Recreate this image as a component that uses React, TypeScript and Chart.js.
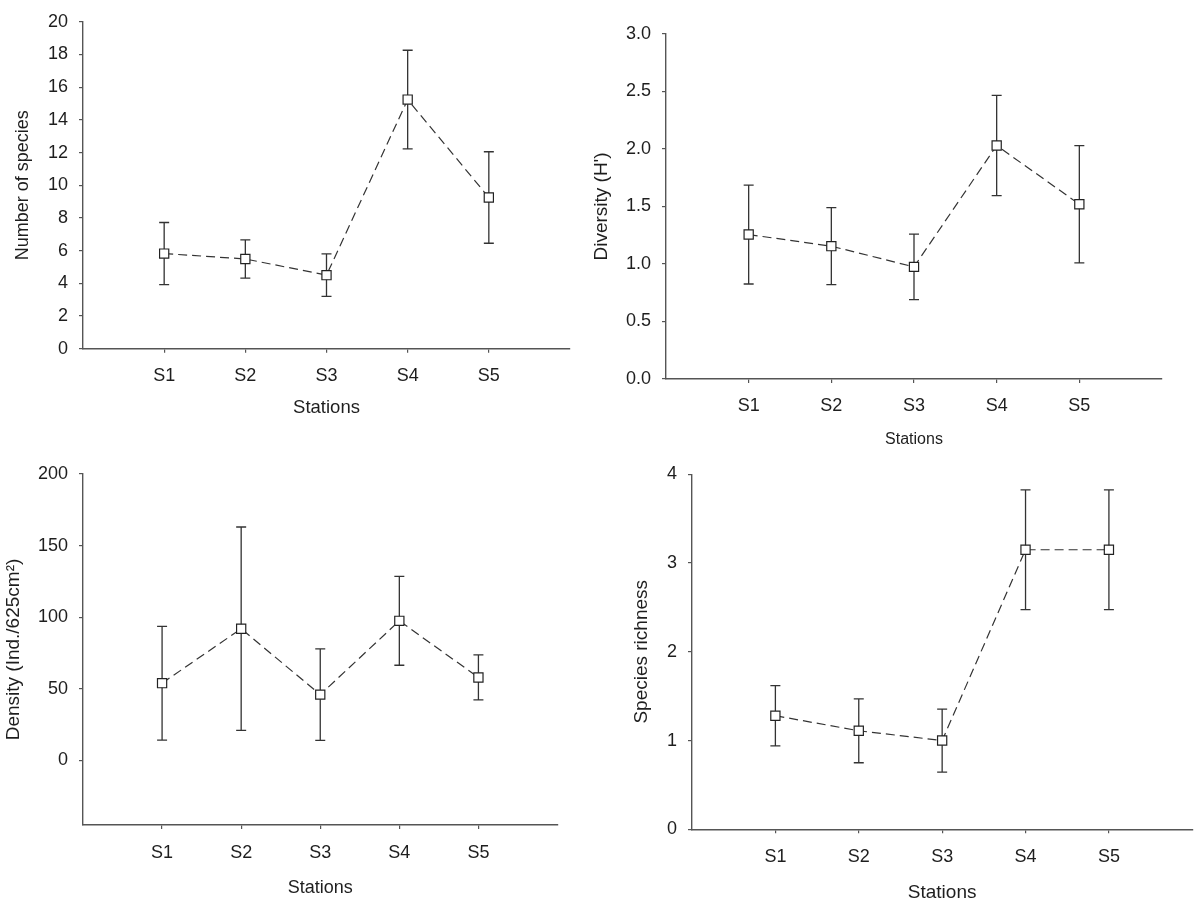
import React, { useEffect, useRef } from "react";
import { Chart, registerables } from "chart.js";

Chart.register(...registerables);

// ---------- data ----------
const stations = ["S1", "S2", "S3", "S4", "S5"];
const stationPositions = [1, 2, 3, 4, 5];

const speciesMean = [5.82, 5.49, 4.5, 15.24, 9.25];
const speciesSD = [1.9, 1.17, 1.3, 3.02, 2.8];
const speciesTicks = [0, 2, 4, 6, 8, 10, 12, 14, 16, 18, 20];

const diversityMean = [1.256, 1.155, 0.975, 2.03, 1.52];
const diversitySD = [0.43, 0.335, 0.285, 0.436, 0.51];
const diversityTicks = [0, 0.5, 1.0, 1.5, 2.0, 2.5, 3.0];

const densityMean = [54, 92, 46, 97.5, 58];
const densitySD = [39.7, 71, 32, 31, 15.7];
const densityTicks = [0, 50, 100, 150, 200];

const richnessMean = [1.28, 1.11, 1.0, 3.15, 3.15];
const richnessSD = [0.34, 0.36, 0.355, 0.675, 0.675];
const richnessTicks = [0, 1, 2, 3, 4];

// ---------- style ----------
const FONT = '"Liberation Sans", Arial, Helvetica, sans-serif';
const AXIS = "#555";
const INK = "#1e1e1e";
const LINE = "#333";

type PanelSpec = {
  left: number;
  top: number;
  width: number;
  height: number;
  means: number[];
  sds: number[];
  yTicks: number[];
  yMin: number;
  yMax: number;
  decimals: number;
  yTitle: string;
  yTitleSize: number;
  yTitlePad: number;
  xTitleSize: number;
  yWidth: number;
  xHeight: number;
  pad: { left: number; top: number; right: number; bottom: number };
  xTickPad: number;
};

function makeErrorBars(sds: number[]) {
  return {
    id: "errorBars",
    beforeDatasetsDraw(chart: any) {
      const { ctx } = chart;
      const x = chart.scales.x;
      const y = chart.scales.y;
      const pts = chart.data.datasets[0].data as { x: number; y: number }[];
      ctx.save();
      ctx.strokeStyle = LINE;
      ctx.lineWidth = 1.3;
      pts.forEach((p, i) => {
        const px = x.getPixelForValue(p.x);
        const hi = y.getPixelForValue(p.y + sds[i]);
        const lo = y.getPixelForValue(p.y - sds[i]);
        ctx.beginPath();
        ctx.moveTo(px, hi);
        ctx.lineTo(px, lo);
        ctx.moveTo(px - 5, hi);
        ctx.lineTo(px + 5, hi);
        ctx.moveTo(px - 5, lo);
        ctx.lineTo(px + 5, lo);
        ctx.stroke();
      });
      ctx.restore();
    },
  };
}

function Panel({ spec }: { spec: PanelSpec }) {
  const ref = useRef<HTMLCanvasElement | null>(null);

  useEffect(() => {
    if (!ref.current) return;
    const s = spec;
    const chart = new Chart(ref.current, {
      type: "line",
      data: {
        datasets: [
          {
            data: s.means.map((v, i) => ({ x: stationPositions[i], y: v })),
            borderColor: LINE,
            borderWidth: 1.2,
            borderDash: [9, 5],
            fill: false,
            tension: 0,
            pointStyle: "rect",
            pointRadius: 6.5,
            pointBackgroundColor: "#ffffff",
            pointBorderColor: "#222",
            pointBorderWidth: 1.2,
          },
        ],
      },
      options: {
        responsive: false,
        animation: false,
        events: [],
        layout: { padding: s.pad },
        plugins: {
          legend: { display: false },
          tooltip: { enabled: false },
        },
        scales: {
          x: {
            type: "linear",
            min: 0,
            max: 6,
            afterBuildTicks: (scale: any) => {
              scale.ticks = stationPositions.map((v) => ({ value: v }));
            },
            afterFit: (scale: any) => {
              scale.height = s.xHeight;
            },
            ticks: {
              autoSkip: false,
              maxRotation: 0,
              padding: s.xTickPad,
              color: INK,
              font: { family: FONT, size: 18 },
              callback: (v: any) => stations[stationPositions.indexOf(Number(v))] ?? "",
            },
            grid: {
              drawOnChartArea: false,
              drawTicks: true,
              tickLength: 4,
              color: AXIS,
              lineWidth: 1.2,
            },
            border: { display: true, color: AXIS, width: 1.4 },
            title: {
              display: true,
              text: "Stations",
              color: INK,
              font: { family: FONT, size: s.xTitleSize },
              padding: { top: 0, bottom: 0 },
            },
          },
          y: {
            type: "linear",
            min: s.yMin,
            max: s.yMax,
            afterBuildTicks: (scale: any) => {
              scale.ticks = s.yTicks.map((v) => ({ value: v }));
            },
            afterFit: (scale: any) => {
              scale.width = s.yWidth;
            },
            ticks: {
              autoSkip: false,
              padding: 11,
              color: INK,
              font: { family: FONT, size: 18 },
              callback: (v: any) => Number(v).toFixed(s.decimals),
            },
            grid: {
              drawOnChartArea: false,
              drawTicks: true,
              tickLength: 4,
              color: AXIS,
              lineWidth: 1.2,
            },
            border: { display: true, color: AXIS, width: 1.4 },
            title: {
              display: true,
              text: s.yTitle,
              color: INK,
              font: { family: FONT, size: s.yTitleSize },
              padding: { top: s.yTitlePad, bottom: 0 },
            },
          },
        },
      } as any,
      plugins: [makeErrorBars(s.sds)],
    });
    return () => chart.destroy();
  }, [spec]);

  return (
    <canvas
      ref={ref}
      width={spec.width}
      height={spec.height}
      style={{
        position: "absolute",
        left: spec.left,
        top: spec.top,
        width: spec.width,
        height: spec.height,
        display: "block",
      }}
    />
  );
}

const panels: PanelSpec[] = [
  {
    left: 0,
    top: 0,
    width: 600,
    height: 452,
    means: speciesMean,
    sds: speciesSD,
    yTicks: speciesTicks,
    yMin: 0,
    yMax: 20,
    decimals: 0,
    yTitle: "Number of species",
    yTitleSize: 18,
    yTitlePad: 12.2,
    xTitleSize: 18.5,
    yWidth: 83,
    xHeight: 70.5,
    pad: { left: 0, top: 9, right: 30, bottom: 32.8 },
    xTickPad: 12.5,
  },
  {
    left: 580,
    top: 0,
    width: 620,
    height: 452,
    means: diversityMean,
    sds: diversitySD,
    yTicks: diversityTicks,
    yMin: 0,
    yMax: 3,
    decimals: 1,
    yTitle: "Diversity (H')",
    yTitleSize: 19,
    yTitlePad: 10.3,
    xTitleSize: 16,
    yWidth: 86,
    xHeight: 69.8,
    pad: { left: 0, top: 34, right: 38, bottom: 3.2 },
    xTickPad: 12.5,
  },
  {
    left: 0,
    top: 452,
    width: 600,
    height: 452,
    means: densityMean,
    sds: densitySD,
    yTicks: densityTicks,
    yMin: -45,
    yMax: 200,
    decimals: 0,
    yTitle: "Density (Ind./625cm²)",
    yTitleSize: 19,
    yTitlePad: 2.6,
    xTitleSize: 18,
    yWidth: 83,
    xHeight: 74.1,
    pad: { left: 0, top: 22, right: 42.5, bottom: 4.9 },
    xTickPad: 13.5,
  },
  {
    left: 600,
    top: 452,
    width: 600,
    height: 452,
    means: richnessMean,
    sds: richnessSD,
    yTicks: richnessTicks,
    yMin: 0,
    yMax: 4,
    decimals: 0,
    yTitle: "Species richness",
    yTitleSize: 19,
    yTitlePad: 29.9,
    xTitleSize: 19,
    yWidth: 92,
    xHeight: 74.7,
    pad: { left: 0, top: 22.3, right: 1, bottom: 0 },
    xTickPad: 12.5,
  },
];

export default function App() {
  return (
    <div
      style={{
        position: "absolute",
        left: 0,
        top: 0,
        width: 1200,
        height: 904,
        background: "#ffffff",
        overflow: "hidden",
      }}
    >
      {panels.map((p, i) => (
        <Panel key={i} spec={p} />
      ))}
    </div>
  );
}
